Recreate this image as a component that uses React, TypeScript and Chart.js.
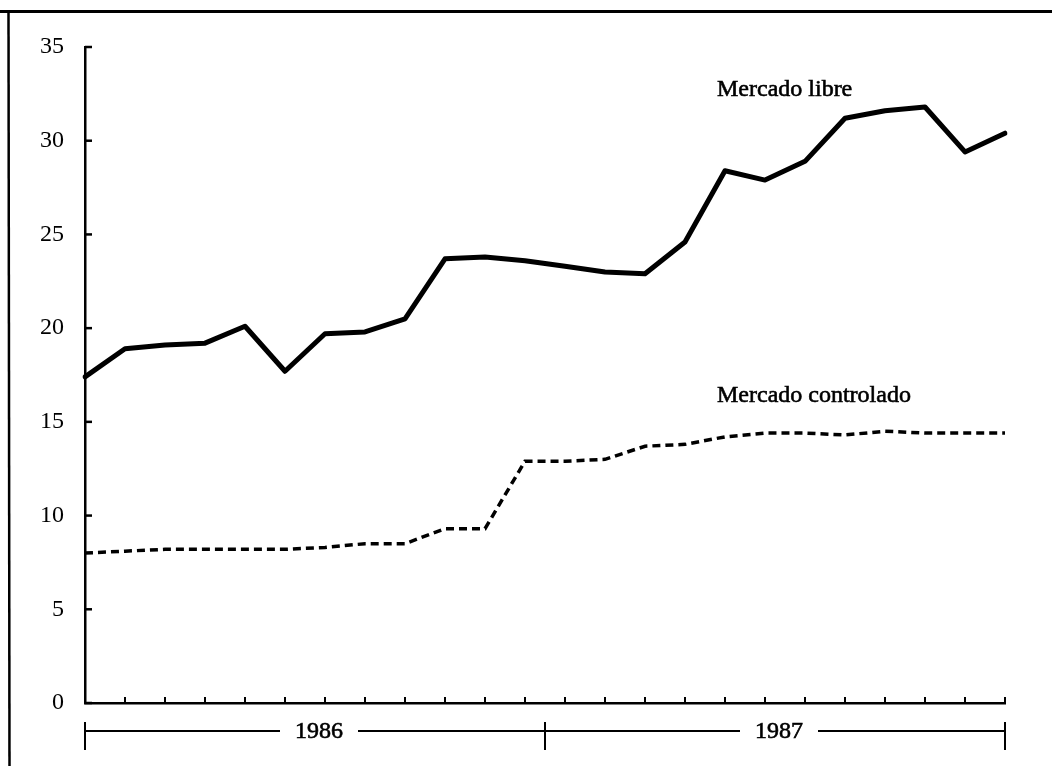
import React, { useEffect, useRef } from 'react';
import { Chart, registerables } from 'chart.js';

Chart.register(...registerables);

const months = ['E', 'F', 'M', 'A', 'M', 'J', 'J', 'A', 'S', 'O', 'N', 'D', 'E', 'F', 'M', 'A', 'M', 'J', 'J', 'A', 'S', 'O', 'N', 'D'];
const mercadoLibre = [17.4, 18.9, 19.1, 19.2, 20.1, 17.7, 19.7, 19.8, 20.5, 23.7, 23.8, 23.6, 23.3, 23.0, 22.9, 24.6, 28.4, 27.9, 28.9, 31.2, 31.6, 31.8, 29.4, 30.4];
const mercadoControlado = [8.0, 8.1, 8.2, 8.2, 8.2, 8.2, 8.3, 8.5, 8.5, 9.3, 9.3, 12.9, 12.9, 13.0, 13.7, 13.8, 14.2, 14.4, 14.4, 14.3, 14.5, 14.4, 14.4, 14.4];
const years = ['1986', '1987'];
const seriesNames = ['Mercado libre', 'Mercado controlado'];
const nameAnchorIndex = [15.8, 15.8];
const nameAnchorValue = [32.7, 16.4];

const FONT = '"Liberation Serif", "Times New Roman", serif';

function boldText(ctx: any, s: string, x: number, y: number) {
  ctx.fillText(s, x, y);
  ctx.lineWidth = 0.6;
  ctx.strokeText(s, x, y);
}

const overlay = {
  id: 'overlay',
  beforeDraw(chart: any) {
    const ctx = chart.ctx;
    ctx.save();
    ctx.strokeStyle = '#000';
    ctx.lineWidth = 3;
    ctx.beginPath();
    ctx.moveTo(0, 11.5);
    ctx.lineTo(chart.width, 11.5);
    ctx.stroke();
    ctx.lineWidth = 2.5;
    ctx.beginPath();
    ctx.moveTo(8.5, 10);
    ctx.lineTo(9.5, chart.height);
    ctx.stroke();
    ctx.restore();
  },
  afterDraw(chart: any) {
    const ctx = chart.ctx;
    const xs = chart.scales.x;
    const ys = chart.scales.y;
    const area = chart.chartArea;
    ctx.save();
    ctx.strokeStyle = '#000';
    ctx.fillStyle = '#000';
    // inward y ticks
    ctx.lineWidth = 2.5;
    ys.ticks.forEach((t: any) => {
      const y = ys.getPixelForValue(t.value);
      ctx.beginPath();
      ctx.moveTo(area.left, y);
      ctx.lineTo(area.left + 7, y);
      ctx.stroke();
    });
    // inward x ticks
    ctx.lineWidth = 2;
    for (let i = 0; i < months.length; i++) {
      const x = xs.getPixelForValue(i);
      ctx.beginPath();
      ctx.moveTo(x, area.bottom);
      ctx.lineTo(x, area.bottom - 6);
      ctx.stroke();
    }
    // year bracket
    const x0 = xs.getPixelForValue(0);
    const x1 = xs.getPixelForValue(months.length - 1);
    const mid = x0 + (x1 - x0) * 11.5 / 23;
    const by = area.bottom + 28;
    ctx.font = `24px ${FONT}`;
    ctx.textAlign = 'center';
    ctx.textBaseline = 'middle';
    const spans = [[x0, mid], [mid, x1]];
    spans.forEach((s, k) => {
      const c = (s[0] + s[1]) / 2 + 4;
      const w = ctx.measureText(years[k]).width / 2 + 15;
      ctx.lineWidth = 2;
      ctx.beginPath();
      ctx.moveTo(s[0], by);
      ctx.lineTo(c - w, by);
      ctx.moveTo(c + w, by);
      ctx.lineTo(s[1], by);
      ctx.stroke();
      boldText(ctx, years[k], c, by + 1);
    });
    ctx.lineWidth = 2;
    [x0, mid, x1].forEach((x) => {
      ctx.beginPath();
      ctx.moveTo(x, by - 9);
      ctx.lineTo(x, by + 19);
      ctx.stroke();
    });
    // series names
    ctx.textAlign = 'left';
    ctx.font = `24px ${FONT}`;
    seriesNames.forEach((n, k) => {
      const x = xs.getPixelForValue(0) + (xs.getPixelForValue(1) - xs.getPixelForValue(0)) * nameAnchorIndex[k];
      const y = ys.getPixelForValue(nameAnchorValue[k]);
      boldText(ctx, n, x, y);
    });
    ctx.restore();
  },
};

export default function App() {
  const ref = useRef<HTMLCanvasElement>(null);
  useEffect(() => {
    document.body.style.margin = '0';
    const chart = new Chart(ref.current as HTMLCanvasElement, {
      type: 'line',
      data: {
        labels: months,
        datasets: [
          {
            label: seriesNames[0],
            data: mercadoLibre,
            borderColor: '#000',
            borderWidth: 5,
            pointRadius: 0,
            tension: 0,
            borderJoinStyle: 'round',
            borderCapStyle: 'round',
          },
          {
            label: seriesNames[1],
            data: mercadoControlado,
            borderColor: '#000',
            borderWidth: 3.5,
            borderDash: [8, 5],
            pointRadius: 0,
            tension: 0,
          },
        ],
      },
      options: {
        responsive: false,
        animation: false,
        layout: { padding: { top: 47, right: 47, left: 0, bottom: 0 } },
        plugins: { legend: { display: false }, tooltip: { enabled: false } },
        scales: {
          x: {
            type: 'category',
            offset: false,
            grid: { display: false },
            border: { display: true, color: '#000', width: 2.5 },
            ticks: { display: false },
            afterFit: (s: any) => { s.height = 63; },
          },
          y: {
            min: 0,
            max: 35,
            ticks: { stepSize: 5, color: '#000', padding: 13, font: { family: FONT, size: 24 } },
            grid: { display: false },
            border: { display: true, color: '#000', width: 2.5 },
            afterFit: (s: any) => { s.width = 85; },
          },
        },
      },
      plugins: [overlay],
    });
    return () => chart.destroy();
  }, []);
  return <canvas ref={ref} width={1052} height={766} style={{ display: 'block' }} />;
}
